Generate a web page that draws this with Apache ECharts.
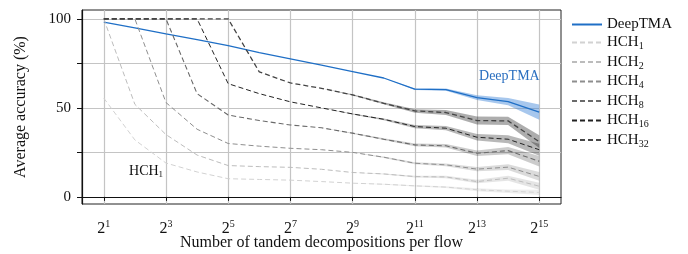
<!DOCTYPE html>
<html>
<head>
<meta charset="utf-8">
<script src="https://cdn.jsdelivr.net/npm/echarts@6/dist/echarts.min.js"></script>
<style>
  html, body { margin: 0; padding: 0; background: #fff; }
  #chart { width: 688px; height: 254px; }
</style>
</head>
<body>
<div id="chart"></div>
<script>
// x values are log2 of the number of tandem decompositions per flow
var exponents = [1, 2, 3, 4, 5, 6, 7, 8, 9, 10, 11, 12, 13, 14, 15]
var xTickExponents = [1, 3, 5, 7, 9, 11, 13, 15]
var yTickValues = [0, 25, 50, 75, 100]
var yLabelValues = [0, 50, 100]

var deepTMA = [98.2, 95, 91.6, 88.3, 85, 81, 77.5, 74, 70.4, 66.8, 60.5, 60.3, 55.8, 53.5, 47.6]
var hch1 = [55.5, 32, 19, 14, 10.2, 9.8, 9.4, 8.6, 7.7, 7.1, 6.2, 5.5, 4, 3.2, 2.5]
var hch2 = [100, 52, 35, 23.5, 17.6, 17, 16.6, 15.5, 13.7, 12.9, 11.4, 11.2, 8.6, 10.5, 6]
var hch4 = [100, 100, 53, 38, 30, 28.5, 27.3, 26.5, 25, 22.3, 18.9, 18, 15.6, 16.7, 11.5]
var hch8 = [100, 100, 100, 58, 46, 42.9, 40.4, 38.8, 35.8, 32.4, 29.2, 28.7, 24.5, 26, 20]
var hch16 = [100, 100, 100, 100, 63.6, 58, 53.4, 50, 46.6, 43.6, 39.5, 38.6, 33.5, 32.4, 26.5]
var hch32 = [100, 100, 100, 100, 100, 70.2, 64, 61, 57.3, 52.6, 48.3, 47.4, 42.9, 42.7, 31]

// half widths of the shaded bands
var deepTMASpread = [0, 0, 0, 0, 0, 0, 0, 0, 0, 0, 0.4, 0.6, 1.3, 2, 4.3]
var hch1Spread = [0, 0, 0, 0, 0, 0, 0, 0, 0, 0.3, 0.4, 0.5, 0.8, 1, 1.5]
var hch2Spread = [0, 0, 0, 0, 0, 0, 0, 0, 0, 0.3, 0.5, 0.7, 1, 1.4, 2]
var hch4Spread = [0, 0, 0, 0, 0, 0, 0, 0, 0, 0.4, 0.6, 0.8, 1.2, 1.6, 2.5]
var hch8Spread = [0, 0, 0, 0, 0, 0, 0, 0, 0.3, 0.5, 0.8, 1, 1.5, 2, 3]
var hch16Spread = [0, 0, 0, 0, 0, 0, 0, 0, 0.3, 0.5, 0.9, 1.2, 1.8, 2.2, 3.4]
var hch32Spread = [0, 0, 0, 0, 0, 0, 0, 0, 0.3, 0.6, 1, 1.4, 2.2, 2.3, 3.6]

var font = 'Liberation Serif'

var lines = [
  { name: 'DeepTMA', data: deepTMA, spread: deepTMASpread, color: '#1f6fc6', band: 'rgba(60,130,215,0.45)', dash: 'solid', width: 1.3 },
  { name: 'HCH1', data: hch1, spread: hch1Spread, color: '#d2d2d2', band: 'rgba(0,0,0,0.07)', dash: [5, 3], width: 1 },
  { name: 'HCH2', data: hch2, spread: hch2Spread, color: '#bcbcbc', band: 'rgba(0,0,0,0.1)', dash: [5, 3], width: 1 },
  { name: 'HCH4', data: hch4, spread: hch4Spread, color: '#8e8e8e', band: 'rgba(0,0,0,0.14)', dash: [5, 3], width: 1 },
  { name: 'HCH8', data: hch8, spread: hch8Spread, color: '#6a6a6a', band: 'rgba(0,0,0,0.2)', dash: [5, 3], width: 1.1 },
  { name: 'HCH16', data: hch16, spread: hch16Spread, color: '#222222', band: 'rgba(0,0,0,0.28)', dash: [5, 3], width: 1 },
  { name: 'HCH32', data: hch32, spread: hch32Spread, color: '#444444', band: 'rgba(0,0,0,0.32)', dash: [5, 3], width: 1.3 }
]

function pairs(values) {
  return values.map(function (v, i) { return [exponents[i], v] })
}

var series = []
lines.forEach(function (l) {
  var rows = l.data.map(function (v, i) {
    return [exponents[i], v - l.spread[i], v + l.spread[i]]
  })
  series.push({
    type: 'custom',
    silent: true,
    z: 1,
    encode: { x: 0, y: [1, 2] },
    data: rows,
    renderItem: function (params, api) {
      if (params.dataIndex !== 0) return null
      var upper = rows.map(function (r) { return api.coord([r[0], r[2]]) })
      var lower = rows.map(function (r) { return api.coord([r[0], r[1]]) }).reverse()
      return {
        type: 'polygon',
        shape: { points: upper.concat(lower) },
        style: { fill: l.band, stroke: null }
      }
    }
  })
})
lines.forEach(function (l) {
  var s = {
    name: l.name,
    type: 'line',
    data: pairs(l.data),
    symbol: 'none',
    color: l.color,
    lineStyle: { color: l.color, width: l.width, type: l.dash },
    z: 3
  }
  if (l.name === 'DeepTMA') {
    s.markPoint = {
      symbol: 'circle',
      symbolSize: 0,
      data: [{ coord: [14.04, 67.6] }],
      label: { show: true, formatter: 'DeepTMA', color: '#2a6fc0', fontFamily: font, fontSize: 14 }
    }
  }
  if (l.name === 'HCH1') {
    s.markPoint = {
      symbol: 'circle',
      symbolSize: 0,
      data: [{ coord: [2.36, 14.2] }],
      label: {
        show: true,
        formatter: '{a|HCH}{s|1}',
        rich: {
          a: { fontFamily: font, fontSize: 14, color: '#111', lineHeight: 16 },
          s: { fontFamily: font, fontSize: 9, color: '#111', lineHeight: 8, verticalAlign: 'bottom' }
        }
      }
    }
  }
  series.push(s)
})

var chart = echarts.init(document.getElementById('chart'), null, { renderer: 'canvas' })
chart.setOption({
  animation: false,
  textStyle: { fontFamily: font },
  grid: {
    left: 82, top: 10, right: 127, bottom: 50,
    outerBoundsMode: 'none',
    show: true, borderColor: '#222', borderWidth: 1, backgroundColor: 'transparent'
  },
  legend: {
    orient: 'vertical',
    left: 571,
    top: 17,
    padding: 0,
    itemWidth: 30,
    itemHeight: 14,
    itemGap: 3,
    itemStyle: { color: 'transparent', borderColor: 'transparent', borderWidth: 0 },
    data: lines.map(function (l) { return l.name }),
    formatter: function (name) {
      if (name === 'DeepTMA') return '{a|DeepTMA}'
      return '{a|HCH}{s|' + name.slice(3) + '}'
    },
    textStyle: {
      rich: {
        a: { fontFamily: font, fontSize: 15, color: '#111', lineHeight: 18 },
        s: { fontFamily: font, fontSize: 10, color: '#111', lineHeight: 9, verticalAlign: 'bottom' }
      }
    }
  },
  xAxis: {
    type: 'value',
    min: 0.3,
    max: 15.7,
    name: 'Number of tandem decompositions per flow',
    nameLocation: 'middle',
    nameGap: 31,
    nameMoveOverlap: false,
    nameTextStyle: { fontFamily: font, fontSize: 16, color: '#111' },
    axisLine: { show: true, lineStyle: { color: '#111', width: 1.2 } },
    axisTick: { show: true, customValues: xTickExponents, length: 4, lineStyle: { color: '#111' } },
    axisLabel: {
      customValues: xTickExponents,
      margin: 15,
      formatter: function (v) { return '{b|2}{s|' + v + '}' },
      rich: {
        b: { fontFamily: font, fontSize: 16, color: '#111', lineHeight: 18, verticalAlign: 'bottom' },
        s: { fontFamily: font, fontSize: 10, color: '#111', lineHeight: 10, verticalAlign: 'top' }
      }
    },
    splitLine: { show: true, lineStyle: { color: '#c4c4c4', width: 1.2 } }
  },
  yAxis: {
    type: 'value',
    min: -4,
    max: 105,
    name: 'Average accuracy (%)',
    nameLocation: 'middle',
    nameRotate: 90,
    nameGap: 53,
    nameMoveOverlap: false,
    nameTextStyle: { fontFamily: font, fontSize: 16, color: '#111' },
    axisLine: { show: true, lineStyle: { color: '#111', width: 1.2 } },
    axisTick: { show: true, customValues: yTickValues, length: 5, lineStyle: { color: '#111' } },
    axisLabel: {
      customValues: yLabelValues,
      margin: 11,
      fontFamily: font,
      fontSize: 15,
      color: '#111'
    },
    splitLine: { show: true, lineStyle: { color: '#c4c4c4', width: 1.2 } }
  },
  series: series
})
</script>
</body>
</html>
